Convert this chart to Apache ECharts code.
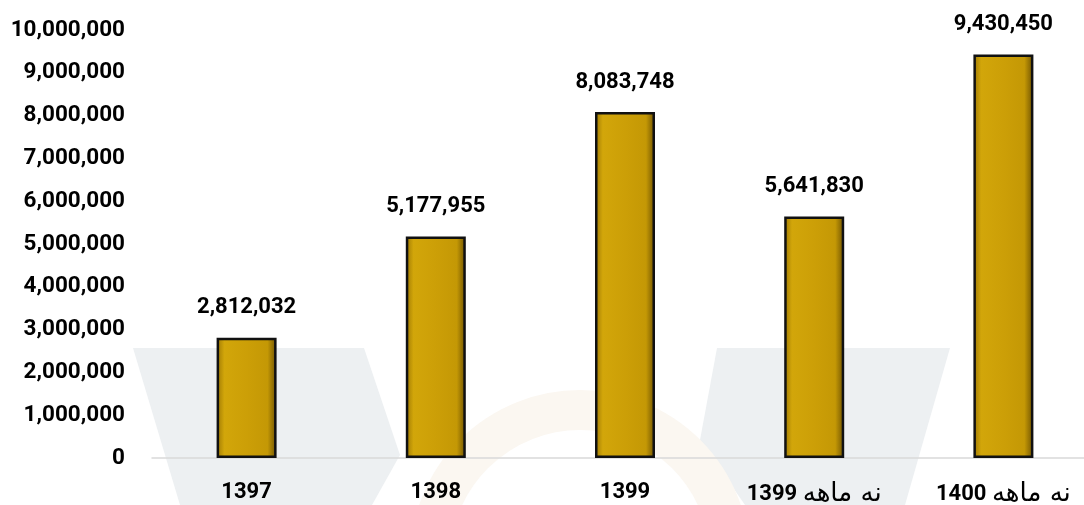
<!DOCTYPE html>
<html>
<head>
<meta charset="utf-8">
<script src="https://cdn.jsdelivr.net/npm/echarts@6/dist/echarts.min.js"></script>
<style>
html,body{margin:0;padding:0;background:#fff;overflow:hidden;width:1084px;height:505px;}
#c{width:1100px;height:505px;}
</style>
</head>
<body>
<div id="c"></div>
<script>
const categories = ['1397', '1398', '1399', 'نه ماهه 1399', 'نه ماهه 1400'];
const values = [2812032, 5177955, 8083748, 5641830, 9430450];
const yMin = 0, yMax = 10000000, yStep = 1000000;

const chart = echarts.init(document.getElementById('c'));
const fmt = v => v.toLocaleString('en-US');
const font = 'Roboto, "DejaVu Sans", sans-serif';

chart.setOption({
  backgroundColor: '#ffffff',
  animation: false,
  graphic: [
    { type: 'polygon', z: -10, silent: true,
      shape: { points: [[133,348],[364,348],[400,455],[372,505],[180,505]] },
      style: { fill: '#edf0f2' } },
    { type: 'polygon', z: -10, silent: true,
      shape: { points: [[717,348],[950,348],[905,505],[745,505],[700,440]] },
      style: { fill: '#edf0f2' } },
    { type: 'arc', z: -9, silent: true,
      shape: { cx: 580, cy: 560, r: 150, startAngle: Math.PI, endAngle: 2 * Math.PI },
      style: { stroke: '#fbf7f1', lineWidth: 40, fill: null } }
  ],
  grid: { left: 152, top: 30, right: 2, height: 428, containLabel: false, outerBoundsMode: 'none' },
  xAxis: {
    type: 'category',
    data: categories,
    axisLine: { show: true, lineStyle: { color: '#d9d9d9', width: 1.5 } },
    axisTick: { show: false },
    axisLabel: {
      color: '#000', margin: 23,
      formatter: v => {
        const m = v.match(/^(.*?)\s*(\d+)$/);
        if (m && m[1]) return '{n|' + m[2] + ' }{a|' + m[1] + '}';
        return '{n|' + v + '}';
      },
      rich: {
        n: { fontFamily: font, fontWeight: 'bold', fontSize: 22, color: '#000' },
        a: { fontFamily: '"DejaVu Sans", sans-serif', fontWeight: 'normal', fontSize: 26, color: '#000' }
      }
    }
  },
  yAxis: {
    type: 'value',
    min: yMin, max: yMax, interval: yStep,
    splitLine: { show: false },
    axisLine: { show: false },
    axisTick: { show: false },
    axisLabel: { color: '#000', fontFamily: font, fontWeight: 'bold', fontSize: 22.5, margin: 27,
      formatter: v => fmt(v) }
  },
  series: [{
    type: 'bar',
    data: values,
    barWidth: 60,
    itemStyle: {
      borderColor: '#111',
      borderWidth: 2.5,
      color: new echarts.graphic.LinearGradient(0, 0, 1, 0, [
        { offset: 0, color: '#9c7704' },
        { offset: 0.13, color: '#d2a60a' },
        { offset: 0.5, color: '#cc9f07' },
        { offset: 0.85, color: '#c49805' },
        { offset: 1, color: '#6e5202' }
      ])
    },
    label: {
      show: true, position: 'top', distance: 19,
      color: '#000', fontFamily: font, fontWeight: 'bold', fontSize: 22,
      formatter: p => fmt(p.value)
    }
  }]
});
</script>
</body>
</html>
